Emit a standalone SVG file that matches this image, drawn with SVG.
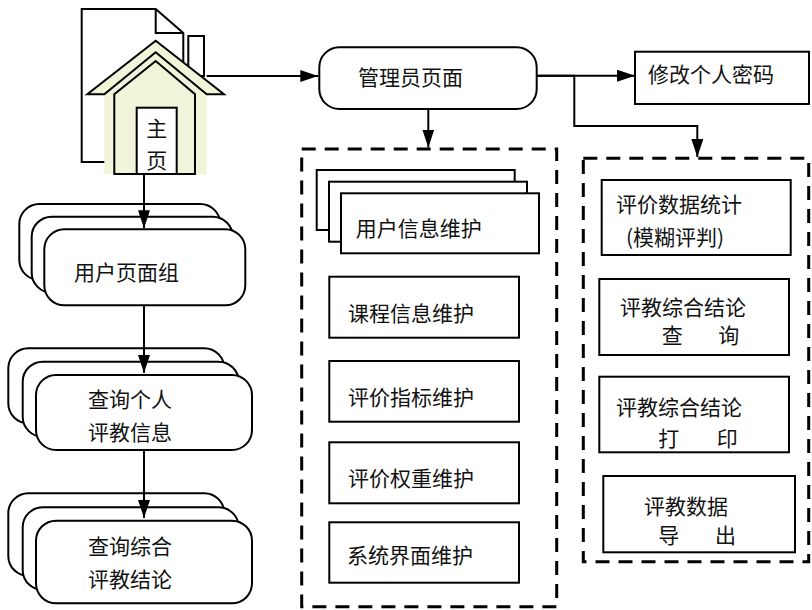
<svg xmlns="http://www.w3.org/2000/svg" width="812" height="610" viewBox="0 0 812 610">
<defs>
<marker id="arr" markerUnits="userSpaceOnUse" markerWidth="18" markerHeight="12" refX="18" refY="6" orient="auto"><path d="M0,0 L18,6 L0,12 z" fill="#000"/></marker>
</defs>
<style>
.s{fill:#fff;stroke:#000;stroke-width:2}
.d{fill:none;stroke:#000;stroke-width:3;stroke-dasharray:14 9}
.t{font-family:"Noto Sans CJK SC","Noto Sans",sans-serif;font-size:21px;fill:#111}
.c{fill:none;stroke:#000;stroke-width:2}
</style>
<rect width="812" height="610" fill="#fff"/>
<g id="home">
<path class="s" d="M81.7,9 H155.7 L183.3,33 V162 H81.7 Z"/>
<path class="c" d="M155.7,9 V33 H183.3"/>
<rect class="s" x="188.3" y="36" width="15.7" height="40"/>
<path fill="#F1F4D9" d="M87.3,94.3 L155.7,40.7 L224,94.3 H206.7 V174 H104.3 V94.3 Z"/>
<path class="c" d="M104.3,94.3 H87.3 L155.7,40.7 L224,94.3 H206.7 L155.7,52.3 Z"/>
<path class="c" d="M114.3,174 V94.3 L155.7,61 L195,94.3 V174 Z"/>
<rect class="s" x="136.7" y="107.7" width="40" height="66.3"/>
<text class="t" x="156.7" y="136" text-anchor="middle">主</text>
<text class="t" x="156.7" y="168" text-anchor="middle">页</text>
</g>
<g id="user-pages">
<rect class="s" x="19.3" y="204" width="201" height="76" rx="20"/>
<rect class="s" x="31.7" y="216.7" width="201" height="76" rx="20"/>
<rect class="s" x="44.3" y="229.3" width="201" height="76" rx="20"/>
<text class="t" x="74" y="280">用户页面组</text>
</g>
<g id="query-personal">
<rect class="s" x="8.3" y="348.3" width="216" height="75" rx="20"/>
<rect class="s" x="22.7" y="361.7" width="216" height="75" rx="20"/>
<rect class="s" x="36" y="375" width="216" height="75" rx="20"/>
<text class="t" x="88" y="407">查询个人</text>
<text class="t" x="88" y="439.7">评教信息</text>
</g>
<g id="query-overall">
<rect class="s" x="8.3" y="493.3" width="216" height="82.6" rx="20"/>
<rect class="s" x="22.7" y="507.3" width="216" height="82.6" rx="20"/>
<rect class="s" x="36" y="520.7" width="216" height="82.6" rx="20"/>
<text class="t" x="88" y="554">查询综合</text>
<text class="t" x="88" y="587">评教结论</text>
</g>
<g id="admin">
<rect class="s" x="319.3" y="47.3" width="217.4" height="61.7" rx="20"/>
<text class="t" x="358" y="85.3">管理员页面</text>
</g>
<g id="password">
<rect class="s" x="635" y="51.7" width="174" height="52.3"/>
<text class="t" x="648" y="82.3">修改个人密码</text>
</g>
<g id="maint-group">
<rect class="d" x="301.7" y="149" width="255" height="457.7"/>
</g>
<g id="stats-group">
<rect class="d" x="583.3" y="158.3" width="225.4" height="403.4"/>
</g>
<g id="user-info">
<rect class="s" x="316.7" y="170" width="198" height="60"/>
<rect class="s" x="329" y="181.7" width="198" height="60"/>
<rect class="s" x="341" y="193.3" width="198" height="60"/>
<text class="t" x="355.7" y="236.3">用户信息维护</text>
</g>
<g id="course-info">
<rect class="s" x="329.3" y="276.7" width="189.7" height="61"/>
<text class="t" x="348" y="321.3">课程信息维护</text>
</g>
<g id="index-maint">
<rect class="s" x="329.3" y="361" width="189.7" height="60.7"/>
<text class="t" x="348" y="404.7">评价指标维护</text>
</g>
<g id="weight-maint">
<rect class="s" x="329.3" y="442.3" width="189.7" height="61"/>
<text class="t" x="348" y="486.3">评价权重维护</text>
</g>
<g id="ui-maint">
<rect class="s" x="329.3" y="522.3" width="189.7" height="60.4"/>
<text class="t" x="347" y="563">系统界面维护</text>
</g>
<g id="stats">
<rect class="s" x="601.7" y="180" width="189" height="75"/>
<text class="t" x="616" y="212">评价数据统计</text>
<text class="t" x="626" y="244.7">(模糊评判)</text>
</g>
<g id="conclusion-query">
<rect class="s" x="599.3" y="279" width="189.7" height="76"/>
<text class="t" x="620" y="314.7">评教综合结论</text>
<text class="t" y="343"><tspan x="661.7">查</tspan><tspan x="718.3">询</tspan></text>
</g>
<g id="conclusion-print">
<rect class="s" x="599.3" y="376.7" width="189.7" height="75.6"/>
<text class="t" x="616" y="414.7">评教综合结论</text>
<text class="t" y="445.7"><tspan x="658.3">打</tspan><tspan x="716.7">印</tspan></text>
</g>
<g id="data-export">
<rect class="s" x="603.3" y="476" width="191.7" height="76.3"/>
<text class="t" x="644" y="514">评教数据</text>
<text class="t" y="543"><tspan x="658.3">导</tspan><tspan x="715">出</tspan></text>
</g>
<g id="connectors">
<path class="c" d="M206.7,76 H318.3" marker-end="url(#arr)"/>
<path class="c" d="M144,174 V228.3" marker-end="url(#arr)"/>
<path class="c" d="M144,305.3 V373" marker-end="url(#arr)"/>
<path class="c" d="M144,450 V518" marker-end="url(#arr)"/>
<path class="c" d="M428.3,109 V147.5" marker-end="url(#arr)"/>
<path class="c" d="M536.7,75.7 H635" marker-end="url(#arr)"/>
<path class="c" d="M536.7,75.7 H574.3 V126 H697.3 V157" marker-end="url(#arr)"/>
</g>
</svg>
